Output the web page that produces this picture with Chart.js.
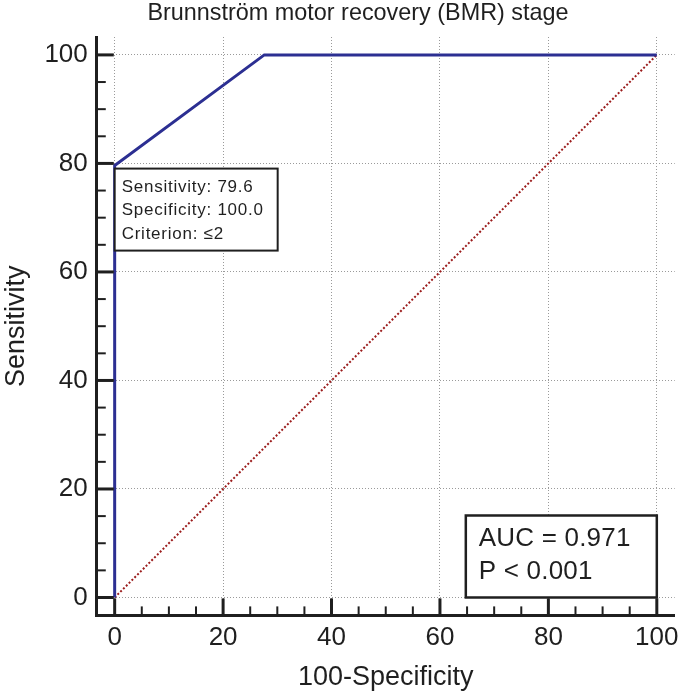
<!DOCTYPE html>
<html>
<head>
<meta charset="utf-8">
<script src="https://cdn.jsdelivr.net/npm/chart.js@4/dist/chart.umd.min.js"></script>
<style>
  html, body { margin: 0; padding: 0; background: #fff; }
  #roc { display: block; }
</style>
</head>
<body>
<canvas id="roc" width="685" height="694"></canvas>
<script>
// ROC curve (100-Specificity vs Sensitivity)
const rocX = [0, 0, 27.6, 100];
const rocY = [0, 79.6, 100, 100];
// reference (chance) diagonal
const refX = [0, 100];
const refY = [0, 100];

const majorTicks = [0, 20, 40, 60, 80, 100];
const minorTicks = [5, 10, 15, 25, 30, 35, 45, 50, 55, 65, 70, 75, 85, 90, 95];

const chartTitle = 'Brunnstr\u00f6m motor recovery (BMR) stage';
const cutPoint   = { x: 0, y: 79.6 };
const cutLines   = ['Sensitivity: 79.6', 'Specificity: 100.0', 'Criterion: \u22642'];
const aucLines   = ['AUC = 0.971', 'P < 0.001'];

const FONT = 'Arial, "Liberation Sans", sans-serif';
const INK  = '#1f1f1f';

/* ----------------------------------------------------------
   Title, inside tick marks and the two text boxes
   ---------------------------------------------------------- */
const rocDecor = {
  id: 'rocDecor',
  afterDatasetsDraw(chart) {
    const { ctx, chartArea: a, scales: { x, y } } = chart;
    ctx.save();
    ctx.strokeStyle = INK;
    ctx.lineCap = 'butt';

    const tick = (len, width, values) => {
      ctx.lineWidth = width;
      values.forEach(v => {
        const px = x.getPixelForValue(v);
        const py = y.getPixelForValue(v);
        ctx.beginPath(); ctx.moveTo(px, a.bottom); ctx.lineTo(px, a.bottom - len); ctx.stroke();
        ctx.beginPath(); ctx.moveTo(a.left, py); ctx.lineTo(a.left + len, py); ctx.stroke();
      });
    };
    tick(17, 3, majorTicks);
    tick(9, 2, minorTicks);

    // cut-off box, anchored under the chosen point
    const bx = x.getPixelForValue(cutPoint.x);
    const by = y.getPixelForValue(cutPoint.y) + 3;
    ctx.fillStyle = '#fff';
    ctx.fillRect(bx, by, 163, 82);
    ctx.lineWidth = 2;
    ctx.strokeRect(bx, by, 163, 82);
    ctx.fillStyle = INK;
    ctx.font = '17px ' + FONT;
    ctx.letterSpacing = '0.75px';
    ctx.textBaseline = 'alphabetic';
    cutLines.forEach((t, i) => ctx.fillText(t, bx + 7, by + 23 + i * 23.5));

    // AUC box, bottom-right corner at (100, 0)
    const rx = x.getPixelForValue(100);
    const ry = y.getPixelForValue(0);
    ctx.fillStyle = '#fff';
    ctx.fillRect(rx - 191, ry - 82, 191, 82);
    ctx.lineWidth = 2.5;
    ctx.strokeRect(rx - 191, ry - 82, 191, 82);
    ctx.fillStyle = INK;
    ctx.font = '26px ' + FONT;
    ctx.letterSpacing = '0.2px';
    aucLines.forEach((t, i) => ctx.fillText(t, rx - 178, ry - 51 + i * 33));

    // chart title
    ctx.font = '23.4px ' + FONT;
    ctx.letterSpacing = '0px';
    ctx.textAlign = 'center';
    ctx.textBaseline = 'middle';
    ctx.fillText(chartTitle, 358, 14);
    ctx.restore();
  }
};

const axisOpts = (title, tickPad, titlePad) => ({
  type: 'linear',
  min: -3.3,
  max: 103.3,
  afterBuildTicks: s => { s.ticks = majorTicks.map(v => ({ value: v })); },
  grid: { color: '#9a9a9a', lineWidth: 1, drawTicks: false },
  border: { display: true, color: INK, width: 3, dash: [1, 2] },
  ticks: { color: INK, font: { family: FONT, size: 26 }, padding: tickPad },
  title: { display: true, text: title, color: INK, font: { family: FONT, size: 27 }, padding: titlePad },
});

new Chart(document.getElementById('roc'), {
  type: 'scatter',
  data: {
    datasets: [
      {
        label: 'ROC',
        data: rocX.map((v, i) => ({ x: v, y: rocY[i] })),
        showLine: true,
        borderColor: '#2c2f92',
        borderWidth: 3,
        pointRadius: 0,
        tension: 0,
      },
      {
        label: 'Reference',
        data: refX.map((v, i) => ({ x: v, y: refY[i] })),
        showLine: true,
        borderColor: '#9b1d1d',
        borderWidth: 2,
        borderDash: [2, 2],
        pointRadius: 0,
      },
    ],
  },
  options: {
    responsive: false,
    animation: false,
    layout: { padding: { left: 0, right: -1.5, top: 37, bottom: 0 } },
    plugins: {
      legend: { display: false },
      tooltip: { enabled: false },
      title: { display: false },
    },
    scales: {
      x: axisOpts('100-Specificity', 6.5, { top: 2, bottom: 0 }),
      y: axisOpts('Sensitivity', 9, { top: 0, bottom: 3 }),
    },
  },
  plugins: [rocDecor],
});
</script>
</body>
</html>
